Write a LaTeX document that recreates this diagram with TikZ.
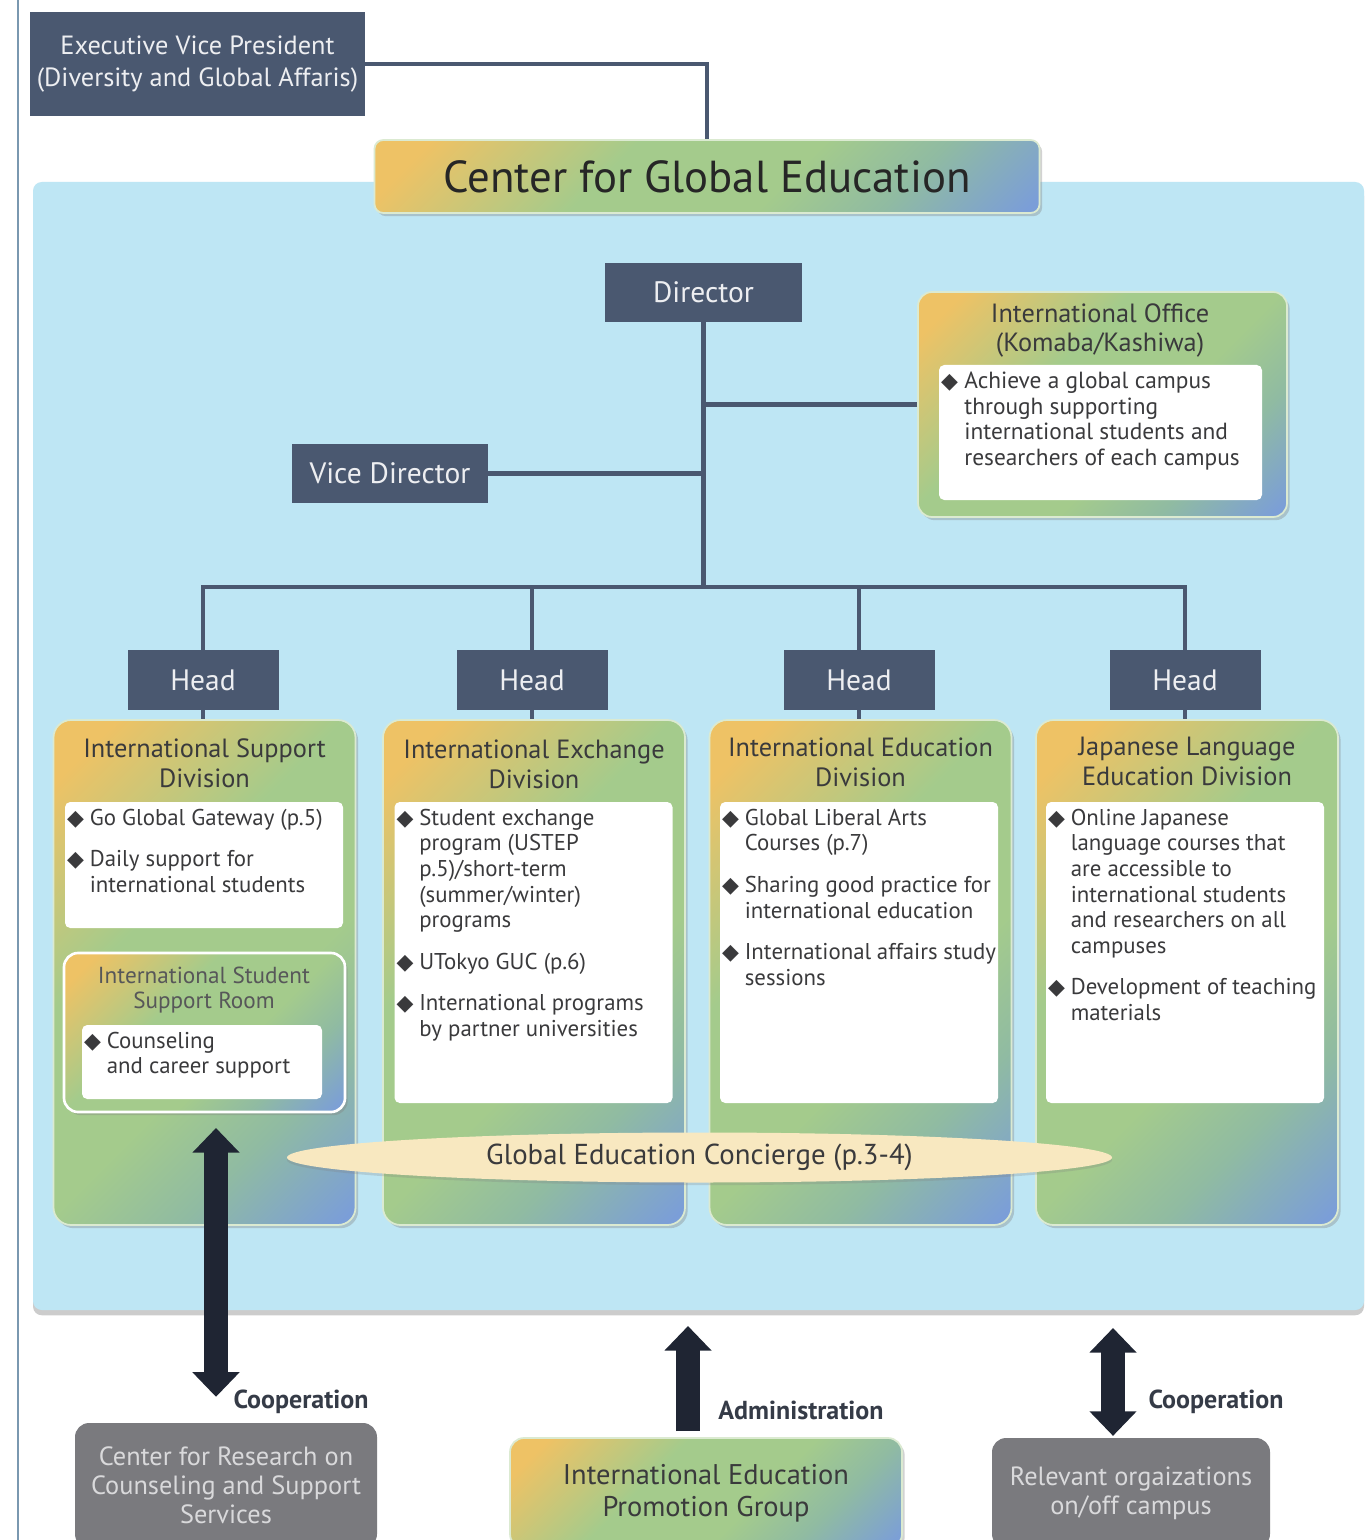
\documentclass[tikz,border=0pt]{standalone}
\usepackage{fontspec}
\setmainfont{PT Sans}
\newfontfamily\symfont{DejaVu Sans}
\usetikzlibrary{arrows.meta}
\usetikzlibrary{positioning}
\usetikzlibrary{shapes.geometric}
\usetikzlibrary{shadows}

\definecolor{slate}{HTML}{4A5870}
\definecolor{skyback}{HTML}{BEE6F4}
\definecolor{navy}{HTML}{1F2533}
\definecolor{grayorg}{HTML}{7A7A7E}
\definecolor{graytext}{HTML}{D9D9DB}
\definecolor{cream}{HTML}{F8E8C0}
\definecolor{gyellow}{HTML}{EEC265}
\definecolor{ggreen}{HTML}{A4CB8C}
\definecolor{gteal}{HTML}{90BBA2}
\definecolor{gblue}{HTML}{7B9ED8}
\definecolor{inktext}{HTML}{3A3A3C}
\definecolor{rulecol}{HTML}{7A98B0}

\pgfdeclarehorizontalshading{cgeshade}{100bp}{color(0bp)=(gyellow); color(20bp)=(gyellow); color(40bp)=(ggreen); color(58bp)=(ggreen); color(70bp)=(gteal); color(84bp)=(gblue); color(100bp)=(gblue)}

\newlength{\pxl}
\setlength{\pxl}{0.02cm}
\newcommand{\dm}{\makebox[1em][l]{\symfont\fontsize{12.5}{12.5}\selectfont ◆}}
\newcommand{\bitem}[1]{\hangindent=1em\hangafter=1\noindent\dm#1\par}
\newcommand{\boxtext}[3]{\parbox[c][#2][t]{#1}{\raggedright\let\\\newline\setlength{\parskip}{9pt}#3}}

\tikzset{
  slatebox/.style={fill=slate, text=white!90!slate, inner sep=0pt, font=\fontsize{16.8}{19}\selectfont},
  gradbox/.style={shade, shading=cgeshade, shading angle=-45, draw=white!60!ggreen, line width=1pt,
    drop shadow={shadow xshift=1.5pt, shadow yshift=-1.8pt, opacity=0.35}},
  listbox/.style={fill=white, rounded corners=3pt, inner xsep=2\pxl, inner ysep=7\pxl, text=inktext,
    font=\fontsize{13}{14.6}\selectfont},
  divtitle/.style={align=center, text=inktext, font=\fontsize{15}{17}\selectfont},
  conn/.style={draw=slate, line width=2.8pt},
  fat/.style={draw=navy, line width=13.5pt},
  bigtip/.tip={Triangle[width=26pt, length=14pt]},
  graybox/.style={fill=grayorg, text=graytext, rounded corners=8pt, align=center, font=\fontsize{15}{16.4}\selectfont},
  coop/.style={text=navy!90!white, font=\bfseries\fontsize{14.8}{16}\selectfont},
}

\begin{document}
\begin{tikzpicture}[x=0.02cm, y=-0.02cm]
  \useasboundingbox (0,0) rectangle (1366,1540);
  \fill[white] (0,0) rectangle (1366,1540);
  \draw[rulecol, line width=1.2pt] (18,0) -- (18,1540);

  \path[fill=skyback, rounded corners=5pt, drop shadow={shadow xshift=0pt, shadow yshift=-3pt, opacity=0.4}]
    (33,182) rectangle (1364,1310);

  \node[slatebox, minimum width=335\pxl, minimum height=104\pxl, align=center, font=\fontsize{15}{18}\selectfont] (evp)
    at (197.5,64) {Executive Vice President\\(Diversity and Global Affaris)};
  \node[gradbox, rounded corners=5pt, minimum width=665\pxl, minimum height=73\pxl, text=black!85,
    font=\fontsize{25.5}{28}\selectfont] (cge) at (707,176.5) {Center for Global Education};
  \draw[conn] (evp.east) -| (cge.north);

  \node[slatebox, minimum width=197\pxl, minimum height=59\pxl] (dir) at (703.5,292.5) {Director};
  \node[slatebox, minimum width=196\pxl, minimum height=59\pxl] (vdir) at (390,473.5) {Vice Director};

  \node[gradbox, rounded corners=8pt, minimum width=369\pxl, minimum height=225\pxl] (io) at (1102.5,404.5) {};
  \node[divtitle, font=\fontsize{15}{16.4}\selectfont] (iotitle) at (1100,330.5) {International Office\\(Komaba/Kashiwa)};
  \node[listbox, font=\fontsize{13.3}{14.6}\selectfont] (iolist) at (1100.5,432.5) {\boxtext{319\pxl}{121\pxl}{%
    \bitem{Achieve a global campus\\through supporting\\international students and\\researchers of each campus}}};

  \coordinate (bus) at (703.5,587);
  \draw[conn] (dir.south) -- (bus);
  \draw[conn] (io.west) -- (io.west -| dir.south);
  \draw[conn] (vdir.east) -- (vdir.east -| dir.south);

  \foreach \hx [count=\i] in {203,532,859,1185}
    \node[slatebox, minimum width=151\pxl, minimum height=60\pxl] (head\i) at (\hx,680) {Head};
  \draw[conn] (head1.north) |- (bus) -| (head4.north);
  \draw[conn] (head2.north) -- (head2.north |- bus);
  \draw[conn] (head3.north) -- (head3.north |- bus);

  \foreach \dx [count=\i] in {204.5,534,860.5,1187} {
    \node[gradbox, rounded corners=10pt, minimum width=302\pxl, minimum height=505\pxl] (div\i) at (\dx,972.5) {};
    \draw[conn] (head\i.south) -- (head\i.south |- div\i.north);
  }

  \node[divtitle] (div1title) at (204.5,763) {International Support\\Division};
  \node[divtitle] (div2title) at (534,764) {International Exchange\\Division};
  \node[divtitle] (div3title) at (860.5,762) {International Education\\Division};
  \node[divtitle] (div4title) at (1187,761) {Japanese Language\\Education Division};

  \node[listbox] (div1list) at (204,865) {\boxtext{274\pxl}{112\pxl}{%
    \bitem{Go Global Gateway (p.5)}
    \bitem{Daily support for\\international students}}};
  \node[listbox] (div2list) at (533.5,952.5) {\boxtext{274\pxl}{287\pxl}{%
    \bitem{Student exchange\\program (USTEP\\p.5)/short-term\\(summer/winter)\\programs}
    \bitem{UTokyo GUC (p.6)}
    \bitem{International programs\\by partner universities}}};
  \node[listbox] (div3list) at (859,952.5) {\boxtext{274\pxl}{287\pxl}{%
    \bitem{Global Liberal Arts\\Courses (p.7)}
    \bitem{Sharing good practice for\\international education}
    \bitem{International affairs study\\sessions}}};
  \node[listbox] (div4list) at (1185,952.5) {\boxtext{274\pxl}{287\pxl}{%
    \bitem{Online Japanese\\language courses that\\are accessible to\\international students\\and researchers on all\\campuses}
    \bitem{Development of teaching\\materials}}};

  \node[gradbox, draw=white, line width=1.5pt, rounded corners=8pt, minimum width=281\pxl, minimum height=159\pxl] (issr)
    at (204.5,1032.5) {};
  \node[divtitle, text=inktext!85, font=\fontsize{13.2}{14.7}\selectfont] (issrtitle) at (204,990) {International Student\\Support Room};
  \node[listbox] (issrlist) at (202,1062) {\boxtext{236\pxl}{60\pxl}{%
    \bitem{Counseling\\and career support}}};

  \node[ellipse, fill=cream, inner sep=0pt, minimum width=825\pxl, minimum height=50\pxl, text=inktext,
    font=\fontsize{16.4}{18}\selectfont, drop shadow={shadow xshift=0pt, shadow yshift=-1.5pt, opacity=0.25}] (gec)
    at (699.5,1157.5) {Global Education Concierge (p.3-4)};

  \node[graybox, minimum width=302\pxl, minimum height=125\pxl] (crc) at (226,1485.5)
    {Center for Research on\\Counseling and Support\\Services};
  \node[gradbox, rounded corners=8pt, minimum width=392\pxl, minimum height=110\pxl, align=center, text=inktext,
    font=\fontsize{16.2}{18}\selectfont] (iepg) at (706,1493) {International Education\\Promotion Group};
  \node[graybox, minimum width=278\pxl, minimum height=110\pxl] (rel) at (1131,1493) {Relevant orgaizations\\on/off campus};

  \coordinate (coopLtop) at (216,1128);
  \coordinate (admtop) at (688,1326);
  \coordinate (coopRtop) at (1113,1328);
  \draw[fat, bigtip-bigtip, shorten >=14.7pt] (coopLtop) -- (coopLtop |- crc.north);
  \draw[fat, -bigtip, shorten <=3.4pt] (admtop |- iepg.north) -- (admtop);
  \draw[fat, bigtip-bigtip, shorten >=1pt] (coopRtop) -- (coopRtop |- rel.north);

  \node[coop] (coopLlabel) at (301,1402) {Cooperation};
  \node[coop] (admlabel) at (801,1410) {Administration};
  \node[coop] (coopRlabel) at (1216,1402) {Cooperation};
\end{tikzpicture}
\end{document}
